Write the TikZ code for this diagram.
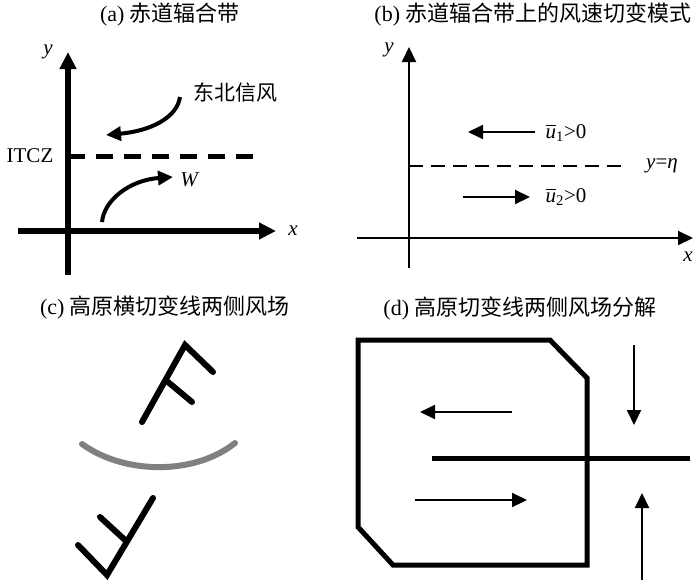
\documentclass[tikz,border=0pt]{standalone}
\usepackage{amsmath}
\usepackage{fontspec}
\setmainfont{Liberation Serif}
\newfontfamily\cjk{Noto Sans CJK SC}
\usetikzlibrary{arrows.meta}

\begin{document}
\begin{tikzpicture}[x=1pt, y=-1pt, font=\fontsize{21}{25}\selectfont,
    bigtip/.style={-{Triangle[length=17pt, width=16pt]}},
    smalltip/.style={-{Triangle[length=15pt, width=14pt]}},
    title/.style={font=\fontsize{22}{26}\selectfont},
    barb/.style={line width=6pt, line cap=round, line join=miter}]
    \useasboundingbox (0,0) rectangle (700,584);

    % (a)
    \node[title] (ta) at (170,15) {(a) {\cjk 赤道辐合带}};
    \draw[line width=6pt, bigtip] (68,275) -- (68,52);
    \draw[line width=6pt, bigtip] (18,231) -- (276,231);
    \node (ya) at (48,52) {\textit{y}};
    \node (xa) at (293,231) {\textit{x}};
    \node (itcz) at (30,156) {ITCZ};
    \draw[line width=5pt, dash pattern=on 17pt off 11pt] (68,156) -- (256,156);
    \draw[line width=4pt, smalltip] (180,97) .. controls (177,118) and (150,131) .. (106,135);
    \node (ne) at (235,92) {\cjk 东北信风};
    \draw[line width=4pt, smalltip] (102,222) .. controls (104,200) and (130,180) .. (173,177);
    \node (w) at (190,180) {\textit{W}};

    % (b)
    \node[title] (tb) at (533,15) {(b) {\cjk 赤道辐合带上的风速切变模式}};
    \draw[line width=2pt, smalltip] (409,268) -- (409,47);
    \draw[line width=2pt, smalltip] (357,238) -- (693,238);
    \node (yb) at (389,50) {\textit{y}};
    \node (xb) at (688,257) {\textit{x}};
    \draw[line width=2pt, dash pattern=on 14pt off 8pt] (409,166) -- (628,166);
    \node (eta) at (662,166) {\textit{y}=\textit{η}};
    \draw[line width=2pt, smalltip] (535,132) -- (468,132);
    \node (u1) at (566,133) {$\overline{\textit{u}}_{\text{1}}$>0};
    \draw[line width=2pt, smalltip] (463,197) -- (530,197);
    \node (u2) at (566,197) {$\overline{\textit{u}}_{\text{2}}$>0};

    % (c)
    \node[title] (tc) at (165,307) {(c) {\cjk 高原横切变线两侧风场}};
    \draw[barb] (142,422) -- (185,345) -- (213,372);
    \draw[barb] (168,382) -- (192,402);
    \draw[line width=6pt, black!50, line cap=round] (82,444) .. controls (125,475) and (195,475) .. (235,443);
    \draw[barb] (153,498) -- (107,575) -- (78,545);
    \draw[barb] (125,540) -- (100,517);

    % (d)
    \node[title] (td) at (520,308) {(d) {\cjk 高原切变线两侧风场分解}};
    \draw[line width=5pt, line join=miter] (358,340) -- (550,340) -- (587,378) -- (587,565)
        -- (393,565) -- (358,527) -- cycle;
    \draw[line width=5pt] (432,458) -- (690,458);
    \draw[line width=2pt, smalltip] (512,412) -- (420,412);
    \draw[line width=2pt, smalltip] (415,500) -- (527,500);
    \draw[line width=2pt, smalltip] (634,345) -- (634,425);
    \draw[line width=2pt, smalltip] (642,580) -- (642,493);
\end{tikzpicture}
\end{document}
